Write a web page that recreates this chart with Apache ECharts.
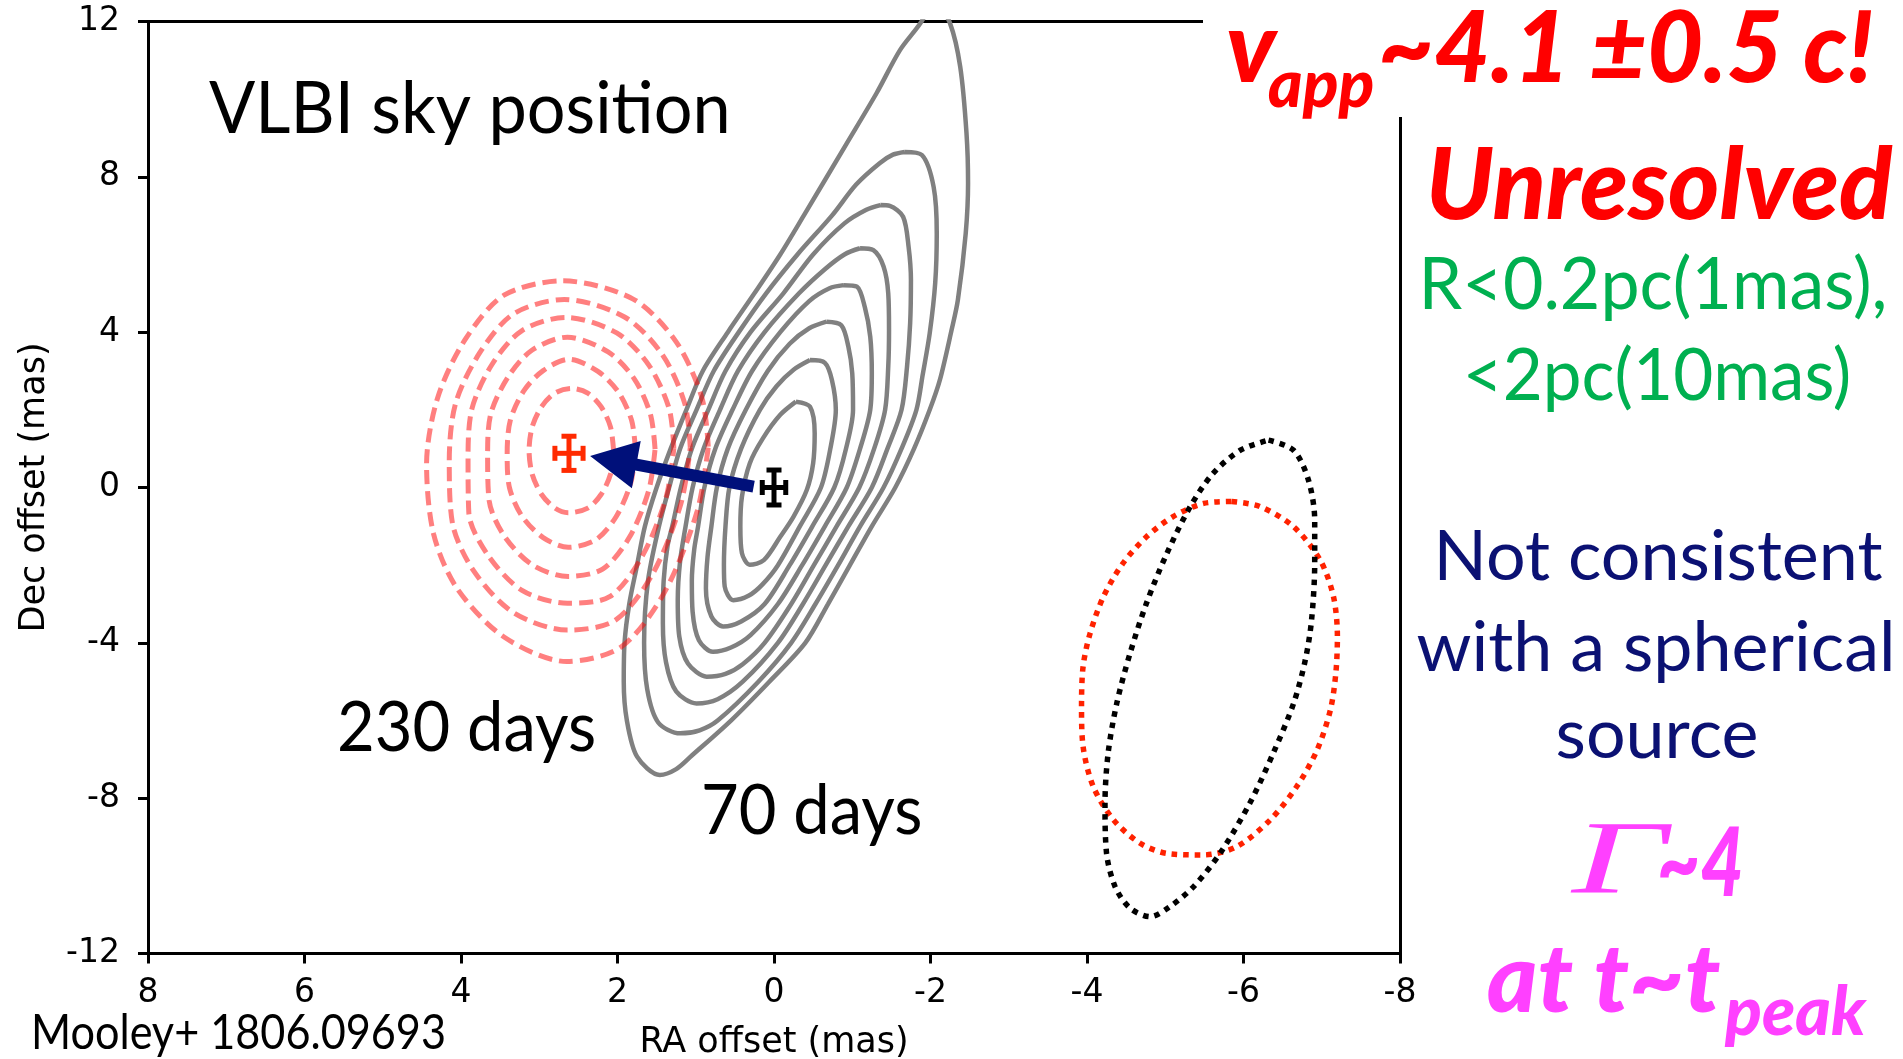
<!DOCTYPE html>
<html><head><meta charset="utf-8">
<script src="https://cdn.jsdelivr.net/npm/echarts@6/dist/echarts.min.js"></script>
<style>html,body{margin:0;padding:0;background:#fff;}#c{width:1903px;height:1059px;}</style>
</head><body><div id="c"></div>
<script>
// ---- axes ----
const xTicks = [8, 6, 4, 2, 0, -2, -4, -6, -8];
const yTicks = [12, 8, 4, 0, -4, -8, -12];
const xTitle = 'RA offset (mas)';
const yTitle = 'Dec offset (mas)';

// ---- 70-day contours (grey, solid), [RA, Dec] in mas ----
const gray1 = [[-0.28,2.21],[-0.46,2.08],[-0.52,1.39],[-0.50,0.62],[-0.42,-0.06],[-0.25,-0.75],[-0.08,-1.27],[0.13,-1.87],[0.31,-1.99],[0.41,-1.69],[0.43,-1.01],[0.41,-0.24],[0.31,0.62],[0.14,1.27],[-0.08,1.87],[-0.28,2.21]];
const gray2 = [[-0.46,3.28],[-0.65,3.21],[-0.74,2.77],[-0.79,2.0],[-0.72,1.0],[-0.60,0.0],[-0.33,-1.0],[-0.05,-2.0],[0.15,-2.5],[0.32,-2.78],[0.52,-2.90],[0.63,-2.55],[0.64,-2.0],[0.62,-1.0],[0.57,0.0],[0.42,1.0],[0.18,2.0],[-0.03,2.60],[-0.25,3.03],[-0.46,3.28]];
const gray3 = [[-0.67,4.27],[-0.86,4.18],[-0.95,3.63],[-1.00,2.94],[-1.01,2.0],[-0.92,1.0],[-0.77,0.0],[-0.49,-1.0],[-0.20,-2.0],[0.12,-3.0],[0.42,-3.45],[0.65,-3.58],[0.80,-3.32],[0.87,-2.6],[0.85,-1.8],[0.80,-1.0],[0.73,0.0],[0.59,1.0],[0.36,2.0],[0.08,3.0],[-0.20,3.7],[-0.45,4.10],[-0.67,4.27]];
const gray4 = [[-0.89,5.21],[-1.06,5.17],[-1.16,4.65],[-1.23,3.88],[-1.25,2.94],[-1.23,2.0],[-1.10,1.0],[-0.93,0.0],[-0.65,-1.0],[-0.36,-2.0],[-0.05,-3.0],[0.30,-3.8],[0.55,-4.12],[0.78,-4.23],[0.96,-3.93],[1.04,-3.2],[1.05,-2.4],[1.02,-1.6],[0.97,-1.0],[0.89,0.0],[0.75,1.0],[0.53,2.0],[0.28,3.0],[-0.08,4.0],[-0.45,4.80],[-0.71,5.13],[-0.89,5.21]];
const gray5 = [[-1.10,6.16],[-1.27,6.11],[-1.40,5.69],[-1.46,5.00],[-1.47,4.05],[-1.46,3.11],[-1.42,2.0],[-1.28,1.0],[-1.09,0.0],[-0.80,-1.0],[-0.51,-2.0],[-0.22,-3.0],[0.12,-4.0],[0.40,-4.55],[0.62,-4.80],[0.86,-4.87],[1.10,-4.53],[1.21,-3.84],[1.23,-2.9],[1.20,-1.9],[1.13,-1.0],[1.04,0.0],[0.90,1.0],[0.69,2.0],[0.46,3.0],[0.12,4.0],[-0.32,5.0],[-0.65,5.62],[-0.90,6.0],[-1.10,6.16]];
const gray6 = [[-1.36,7.27],[-1.48,7.25],[-1.65,6.97],[-1.72,6.20],[-1.75,5.34],[-1.74,4.23],[-1.70,3.11],[-1.63,2.0],[-1.45,1.0],[-1.25,0.0],[-0.95,-1.0],[-0.66,-2.0],[-0.37,-3.0],[-0.05,-4.0],[0.40,-5.0],[0.72,-5.45],[0.99,-5.56],[1.25,-5.25],[1.38,-4.50],[1.42,-3.5],[1.41,-2.4],[1.36,-1.5],[1.30,-1.0],[1.19,0.0],[1.05,1.0],[0.84,2.0],[0.62,3.0],[0.30,4.0],[-0.12,5.0],[-0.50,6.0],[-0.90,6.8],[-1.18,7.15],[-1.36,7.27]];
const gray7 = [[-1.67,8.64],[-1.89,8.56],[-2.04,7.74],[-2.08,6.54],[-2.06,5.26],[-1.99,3.97],[-1.90,2.9],[-1.82,2.0],[-1.63,1.0],[-1.40,0.0],[-1.10,-1.0],[-0.82,-2.0],[-0.53,-3.0],[-0.22,-4.0],[0.20,-5.0],[0.72,-6.0],[0.95,-6.25],[1.20,-6.33],[1.48,-6.05],[1.62,-5.20],[1.66,-4.00],[1.61,-2.4],[1.47,-1.0],[1.34,0.0],[1.20,1.0],[0.99,2.0],[0.77,3.0],[0.45,4.0],[0.10,5.0],[-0.30,6.0],[-0.74,7.0],[-1.05,7.8],[-1.35,8.35],[-1.52,8.57],[-1.67,8.64]];
const gray8 = [[-2.05,12.6],[-2.25,11.95],[-2.38,10.83],[-2.46,9.12],[-2.48,7.83],[-2.45,6.54],[-2.35,4.83],[-2.27,4.06],[-2.12,2.77],[-1.99,2.0],[-1.79,1.0],[-1.55,0.0],[-1.25,-1.0],[-0.97,-2.0],[-0.69,-3.0],[-0.40,-4.0],[0.06,-5.0],[0.55,-6.0],[1.05,-6.9],[1.25,-7.25],[1.46,-7.40],[1.75,-6.93],[1.88,-6.0],[1.92,-5.0],[1.91,-4.0],[1.85,-3.0],[1.75,-2.0],[1.65,-1.0],[1.50,0.0],[1.32,1.0],[1.12,2.0],[0.91,3.0],[0.59,4.0],[0.25,5.0],[-0.08,6.0],[-0.38,7.0],[-0.93,8.86],[-1.31,10.15],[-1.61,11.26],[-1.87,11.95],[-2.05,12.6]];

// ---- 230-day contours (red, dashed) ----
const red1 = [[2.05,0.95],[2.09,1.56],[2.21,2.08],[2.38,2.43],[2.59,2.55],[2.80,2.43],[2.97,2.08],[3.09,1.56],[3.13,0.95],[3.09,0.34],[2.97,-0.18],[2.80,-0.53],[2.63,-0.65],[2.38,-0.53],[2.21,-0.18],[2.09,0.34],[2.05,0.95]];
const red2 = [[1.77,0.97],[1.82,1.73],[1.99,2.46],[2.25,2.99],[2.62,3.30],[2.95,3.01],[3.20,2.48],[3.37,1.73],[3.41,0.87],[3.38,-0.01],[3.22,-0.74],[2.95,-1.29],[2.63,-1.54],[2.28,-1.35],[2.02,-0.76],[1.83,0.12],[1.77,0.97]];
const red3 = [[1.52,0.99],[1.58,1.89],[1.79,2.81],[2.12,3.49],[2.64,3.87],[3.09,3.54],[3.40,2.84],[3.62,1.89],[3.66,0.80],[3.64,-0.34],[3.45,-1.24],[3.09,-1.99],[2.63,-2.29],[2.19,-2.10],[1.85,-1.29],[1.60,-0.07],[1.52,0.99]];
const red4 = [[1.28,1.01],[1.34,2.03],[1.60,3.15],[2.01,3.98],[2.66,4.38],[3.22,4.04],[3.60,3.18],[3.86,2.03],[3.91,0.73],[3.90,-0.65],[3.66,-1.73],[3.22,-2.65],[2.64,-2.98],[2.10,-2.81],[1.69,-1.79],[1.38,-0.26],[1.28,1.01]];
const red5 = [[1.07,1.03],[1.14,2.16],[1.43,3.43],[1.91,4.39],[2.68,4.84],[3.33,4.47],[3.76,3.47],[4.07,2.16],[4.15,0.67],[4.11,-0.91],[3.84,-2.14],[3.33,-3.22],[2.64,-3.67],[2.03,-3.42],[1.55,-2.22],[1.19,-0.42],[1.07,1.03]];
const red6 = [[0.84,1.05],[0.92,2.30],[1.25,3.75],[1.80,4.85],[2.70,5.32],[3.45,4.95],[3.95,3.80],[4.30,2.30],[4.44,0.60],[4.35,-1.20],[4.05,-2.60],[3.45,-3.85],[2.65,-4.48],[1.95,-4.10],[1.40,-2.70],[0.98,-0.60],[0.84,1.05]];

// ---- beams (dotted) ----
const beamBlack = [[-6.32,1.22],[-6.64,0.96],[-6.83,0.19],[-6.91,-0.84],[-6.91,-1.95],[-6.87,-3.41],[-6.79,-4.44],[-6.64,-5.56],[-6.38,-6.84],[-6.08,-8.13],[-5.70,-9.42],[-5.36,-10.28],[-5.06,-10.79],[-4.81,-11.05],[-4.55,-10.83],[-4.36,-10.28],[-4.25,-9.42],[-4.23,-8.13],[-4.27,-6.84],[-4.38,-5.56],[-4.55,-4.27],[-4.76,-2.98],[-5.02,-1.70],[-5.32,-0.49],[-5.61,0.36],[-5.96,0.96],[-6.32,1.22]];
const beamRed = [[-5.85,-0.36],[-6.21,-0.49],[-6.64,-1.01],[-6.98,-1.87],[-7.15,-2.81],[-7.20,-3.84],[-7.18,-4.78],[-7.11,-5.73],[-6.94,-6.76],[-6.68,-7.70],[-6.34,-8.56],[-5.91,-9.25],[-5.49,-9.46],[-5.02,-9.42],[-4.68,-9.16],[-4.34,-8.56],[-4.08,-7.70],[-3.95,-6.67],[-3.93,-5.64],[-3.95,-4.61],[-4.04,-3.75],[-4.21,-2.81],[-4.46,-1.95],[-4.76,-1.27],[-5.10,-0.75],[-5.49,-0.41],[-5.85,-0.36]];

// ---- positions with errors: [RA, Dec, RAerr, Decerr] ----
const pos70 = [0.0, 0.0, 0.15, 0.45];
const pos230 = [2.62, 0.88, 0.18, 0.44];
const arrowFrom = [0.26, 0.02];
const arrowTo = [2.35, 0.81];

// ---- annotation texts ----
const txtTitle = 'VLBI sky position';
const txt230 = '230 days';
const txt70 = '70 days';
const txtRef = 'Mooley+ 1806.09693';
const txtV = ['v', 'app', '~4.1 \u00b10.5 c!'];
const txtUnres = 'Unresolved';
const txtSize = ['R<0.2pc(1mas),', '<2pc(10mas)'];
const txtNot = ['Not consistent', 'with a spherical', 'source'];
const txtGamma = ['\u0393', '~4'];
const txtAt = ['at t~t', 'peak'];

const chart = echarts.init(document.getElementById('c'), null, {renderer: 'canvas'});

const grayList = [gray1, gray2, gray3, gray4, gray5, gray6, gray7, gray8];
const redList = [red1, red2, red3, red4, red5, red6];

const series = [];
grayList.forEach(d => series.push({
  type: 'line', data: d, symbol: 'none', smooth: 0.3, silent: true, z: 2,
  lineStyle: {color: '#808080', width: 4.5}
}));
redList.forEach(d => series.push({
  type: 'line', data: d, symbol: 'none', smooth: 0.3, silent: true, z: 3,
  lineStyle: {color: 'rgba(255,0,0,0.5)', width: 5, type: [14, 7], cap: 'butt'}
}));
series.push({type: 'line', data: beamRed, symbol: 'none', smooth: 0.3, silent: true, z: 3,
  lineStyle: {color: '#ff2200', width: 5.5, type: [5.5, 6], cap: 'butt'}});
series.push({type: 'line', data: beamBlack, symbol: 'none', smooth: 0.3, silent: true, z: 3,
  lineStyle: {color: '#000000', width: 5.5, type: [5.5, 6], cap: 'butt'}});

function errRender(color) {
  return function (params, api) {
    const x = api.value(0), y = api.value(1), xe = api.value(2), ye = api.value(3);
    const l = api.coord([x + xe, y]), r = api.coord([x - xe, y]);
    const t = api.coord([x, y + ye]), b = api.coord([x, y - ye]);
    const cap = 7.5;
    const st = {stroke: color, lineWidth: 5, fill: null};
    const ln = (x1, y1, x2, y2) => ({type: 'line', shape: {x1, y1, x2, y2}, style: st});
    return {type: 'group', children: [
      ln(l[0], l[1], r[0], r[1]), ln(t[0], t[1], b[0], b[1]),
      ln(l[0], l[1] - cap, l[0], l[1] + cap), ln(r[0], r[1] - cap, r[0], r[1] + cap),
      ln(t[0] - cap, t[1], t[0] + cap, t[1]), ln(b[0] - cap, b[1], b[0] + cap, b[1])
    ]};
  };
}
series.push({type: 'custom', renderItem: errRender('#ff2a00'), data: [pos230], z: 5, silent: true, clip: false});
series.push({type: 'custom', renderItem: errRender('#000000'), data: [pos70], z: 5, silent: true, clip: false});
series.push({
  type: 'custom', z: 6, silent: true, clip: false,
  data: [[arrowFrom[0], arrowFrom[1], arrowTo[0], arrowTo[1]]],
  renderItem: function (params, api) {
    const p0 = api.coord([api.value(0), api.value(1)]);
    const p1 = api.coord([api.value(2), api.value(3)]);
    const dx = p1[0] - p0[0], dy = p1[1] - p0[1], L = Math.hypot(dx, dy);
    const ux = dx / L, uy = dy / L, nx = -uy, ny = ux;
    const hl = 47, hw = 24, sw = 6;
    const bx = p1[0] - ux * hl, by = p1[1] - uy * hl;
    const pts = [
      [p0[0] + nx * sw, p0[1] + ny * sw], [bx + nx * sw, by + ny * sw], [bx + nx * hw, by + ny * hw],
      [p1[0], p1[1]],
      [bx - nx * hw, by - ny * hw], [bx - nx * sw, by - ny * sw], [p0[0] - nx * sw, p0[1] - ny * sw]
    ];
    return {type: 'polygon', shape: {points: pts}, style: {fill: '#00107a'}};
  }
});

function T(x, y, text, font, fill, align, sx) {
  return {type: 'text', x: x, y: y, scaleX: sx || 1, z: 101, silent: true,
    style: {text: text, x: 0, y: 0, font: font, fill: fill,
      align: align || 'left', textAlign: align || 'left', verticalAlign: 'middle', textVerticalAlign: 'middle'}};
}
const RED = '#ff0000', GREEN = '#00b050', NAVY = '#0b1173', MAG = '#ff40ff';
const graphic = [
  {type: 'rect', shape: {x: 1203, y: 0, width: 700, height: 117}, style: {fill: '#ffffff'}, z: 100, silent: true},
  T(209, 110, txtTitle, '72px Lato', '#000', 'left', 0.95),
  T(337, 728, txt230, '70px Lato', '#000', 'left', 0.93),
  T(701, 811, txt70, '70px Lato', '#000', 'left', 0.93),
  T(31, 1034, txtRef, '48px Lato', '#000', 'left', 0.9),
  T(1226, 50, txtV[0], 'italic 900 100px Lato', RED, 'left'),
  T(1268, 86, txtV[1], 'italic 900 66px Lato', RED, 'left'),
  T(1378, 50, txtV[2], 'italic 900 100px Lato', RED, 'left', 0.97),
  T(1659, 187, txtUnres, 'italic 900 100px Lato', RED, 'center', 0.98),
  T(1653, 286, txtSize[0], '72px Lato', GREEN, 'center', 0.97),
  T(1657, 377, txtSize[1], '72px Lato', GREEN, 'center', 0.96),
  T(1658, 557, txtNot[0], '70px Lato', NAVY, 'center'),
  T(1656, 648, txtNot[1], '70px Lato', NAVY, 'center'),
  T(1657, 735, txtNot[2], '70px Lato', NAVY, 'center'),
  T(1572, 865, txtGamma[0], 'italic 104px "Liberation Serif"', MAG, 'left', 1.6),
  T(1657, 865, txtGamma[1], 'italic 900 96px Lato', MAG, 'left', 0.78),
  T(1487, 981, txtAt[0], 'italic 900 96px Lato', MAG, 'left', 1.0),
  T(1725, 1013, txtAt[1], 'italic 900 68px Lato', MAG, 'left', 1.0)
];

const xMin = Math.min(...xTicks), xMax = Math.max(...xTicks), xInt = Math.abs(xTicks[0] - xTicks[1]);
const yMin = Math.min(...yTicks), yMax = Math.max(...yTicks), yInt = Math.abs(yTicks[0] - yTicks[1]);
const spine = {onZero: false, lineStyle: {color: '#000', width: 3}};
const lblFont = {fontSize: 33, fontFamily: 'DejaVu Sans', color: '#000'};

chart.setOption({
  animation: false,
  backgroundColor: '#ffffff',
  grid: {left: 148, right: 503, top: 21.4, bottom: 105.4, containLabel: false, outerBoundsMode: 'none'},
  xAxis: [
    {type: 'value', min: xMin, max: xMax, interval: xInt, inverse: true, position: 'bottom',
      axisLine: spine, axisTick: {show: true, length: 10, lineStyle: {color: '#000', width: 3}},
      axisLabel: Object.assign({margin: 23}, lblFont), splitLine: {show: false},
      name: xTitle, nameLocation: 'middle', nameGap: 72,
      nameTextStyle: {fontSize: 35, fontFamily: 'DejaVu Sans', color: '#000'}},
    {type: 'value', min: xMin, max: xMax, inverse: true, position: 'top',
      axisLine: spine, axisTick: {show: false}, axisLabel: {show: false}, splitLine: {show: false}}
  ],
  yAxis: [
    {type: 'value', min: yMin, max: yMax, interval: yInt, position: 'left',
      axisLine: spine, axisTick: {show: true, length: 10, lineStyle: {color: '#000', width: 3}},
      axisLabel: Object.assign({margin: 28}, lblFont), splitLine: {show: false},
      name: yTitle, nameLocation: 'middle', nameGap: 96,
      nameTextStyle: {fontSize: 35, fontFamily: 'DejaVu Sans', color: '#000'}},
    {type: 'value', min: yMin, max: yMax, position: 'right',
      axisLine: spine, axisTick: {show: false}, axisLabel: {show: false}, splitLine: {show: false}}
  ],
  series: series,
  graphic: graphic
});
</script>
</body></html>
